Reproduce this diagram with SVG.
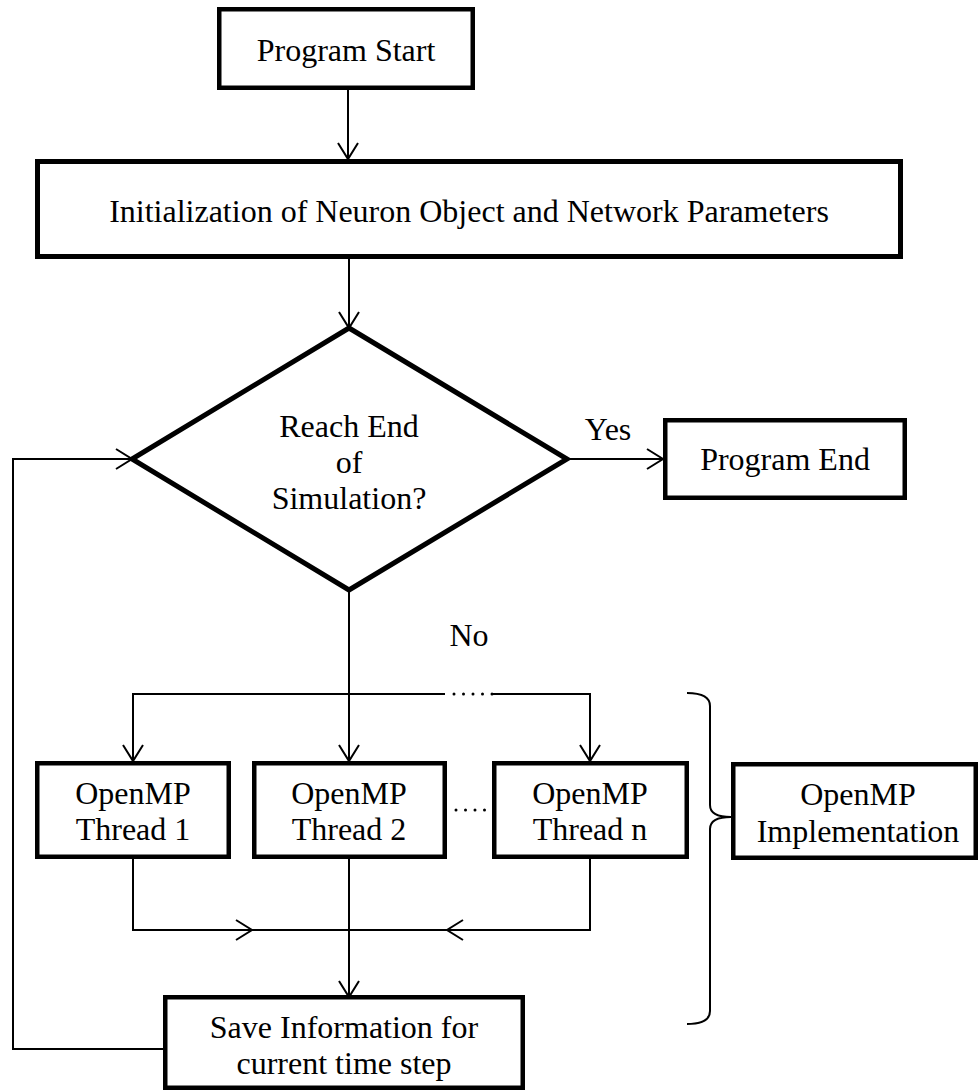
<svg xmlns="http://www.w3.org/2000/svg" xmlns:xlink="http://www.w3.org/1999/xlink" width="980" height="1090" viewBox="0 0 980 1090">
<style>
.box{fill:#fff;stroke:#000;stroke-width:4.5}
.con{fill:none;stroke:#000;stroke-width:2}
.dots{fill:none;stroke:#000;stroke-width:3;stroke-linecap:round;stroke-dasharray:0 9.5}
text{font-family:"Liberation Serif","Times New Roman",serif;font-size:32px;fill:#000;text-anchor:middle}
</style>
<defs>
<path id="ah" d="M-10,-16 L0,0 L10,-16" fill="none" stroke="#000" stroke-width="2"/>
</defs>
<rect width="980" height="1090" fill="#fff"/>
<g id="connectors">
<path class="con" d="M348 90 V159"/>
<use href="#ah" transform="translate(348,159)"/>
<path class="con" d="M349 259 V328"/>
<use href="#ah" transform="translate(349,328)"/>
<path class="con" d="M567 459 H663"/>
<use href="#ah" transform="translate(663,459) rotate(-90)"/>
<path class="con" d="M349 590 V761"/>
<use href="#ah" transform="translate(349,761)"/>
<path class="con" d="M133 761 V694 H445"/>
<path class="con" d="M493 694 H590 V761"/>
<path class="dots" d="M454 694 H493"/>
<use href="#ah" transform="translate(133,761)"/>
<use href="#ah" transform="translate(590,761)"/>
<path class="dots" d="M456 810 H492"/>
<path class="con" d="M133 859 V930 H590 V859"/>
<use href="#ah" transform="translate(252,930) rotate(-90)"/>
<use href="#ah" transform="translate(447,930) rotate(90)"/>
<path class="con" d="M349 859 V997"/>
<use href="#ah" transform="translate(349,997)"/>
<path class="con" d="M165 1049 H13 V459 H132"/>
<use href="#ah" transform="translate(132,459) rotate(-90)"/>
<path class="con" d="M687 693 Q710 693 710 706 V805 Q710 817 731 817 Q710 817 710 829 V1011 Q710 1024 687 1024"/>
</g>
<g id="start">
<rect class="box" x="219.25" y="9.25" width="253.5" height="78.5"/>
<text x="346" y="61">Program Start</text>
</g>
<g id="init">
<rect class="box" x="37.5" y="161.5" width="863" height="95" style="stroke-width:5"/>
<text x="469" y="222">Initialization of Neuron Object and Network Parameters</text>
</g>
<g id="decision">
<polygon class="box" points="349,328 567,459 349,590 132,459" style="stroke-width:5"/>
<text x="349" y="437">Reach End</text>
<text x="349" y="473">of</text>
<text x="349" y="509">Simulation?</text>
</g>
<g id="labels">
<text x="608" y="440">Yes</text>
<text x="469" y="646">No</text>
</g>
<g id="end">
<rect class="box" x="665.25" y="420.25" width="239.5" height="77.5"/>
<text x="785" y="470">Program End</text>
</g>
<g id="thread1">
<rect class="box" x="37.25" y="763.25" width="191.5" height="93.5"/>
<text x="133" y="804">OpenMP</text>
<text x="133" y="840">Thread 1</text>
</g>
<g id="thread2">
<rect class="box" x="254.25" y="763.25" width="190.5" height="93.5"/>
<text x="349" y="804">OpenMP</text>
<text x="349" y="840">Thread 2</text>
</g>
<g id="threadn">
<rect class="box" x="494.25" y="763.25" width="192.5" height="93.5"/>
<text x="590" y="804">OpenMP</text>
<text x="590" y="840">Thread n</text>
</g>
<g id="impl">
<rect class="box" x="733.25" y="764.25" width="242.5" height="93.5"/>
<text x="858" y="805">OpenMP</text>
<text x="858" y="842">Implementation</text>
</g>
<g id="save">
<rect class="box" x="165.25" y="997.25" width="357.5" height="90.5"/>
<text x="344" y="1038">Save Information for</text>
<text x="344" y="1074">current time step</text>
</g>
</svg>
